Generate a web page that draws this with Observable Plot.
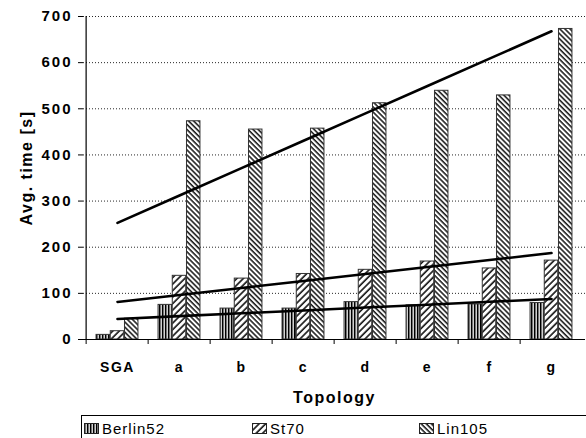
<!DOCTYPE html>
<html><head><meta charset="utf-8">
<script src="https://cdn.jsdelivr.net/npm/d3@7"></script>
<script src="https://cdn.jsdelivr.net/npm/@observablehq/plot@0.6"></script>
<style>
body{margin:0;background:#fff;font-family:"Liberation Sans",Arial,sans-serif;}
#wrap{position:relative;width:586px;height:438px;overflow:hidden;}
#legend{position:absolute;left:81px;top:415px;width:530px;height:32px;border:1px solid #000;box-sizing:border-box;font-size:15px;letter-spacing:1px;color:#000;}
.item{position:absolute;top:2px;display:flex;align-items:center;height:20px;}
.item svg{margin-right:3px;}
</style></head><body><div id="wrap"><div id="chart"></div><div id="legend"></div></div>
<script>
const categories = ["SGA","a","b","c","d","e","f","g"];
const seriesNames = ["Berlin52","St70","Lin105"];
const berlin52 = [10,75,67,67,81,74,76,79];
const st70 = [18,138,132,142,151,169,154,171];
const lin105 = [45,473,455,457,512,539,529,673];
const yTicks = [0,100,200,300,400,500,600,700];
const xLabel = "Topology";
const yLabel = "Avg. time [s]";

const seriesValues = {Berlin52: berlin52, St70: st70, Lin105: lin105};
const table = [];
seriesNames.forEach(s => categories.forEach((c,i) => table.push({category:c, series:s, value:seriesValues[s][i]})));

// linear trend lines (least squares over category index), as in the original
const trend = [];
seriesNames.forEach(s => {
  const v = seriesValues[s];
  const xs = v.map((_,i)=>i+1);
  const mx = d3.mean(xs), my = d3.mean(v);
  const slope = d3.sum(xs,(x,i)=>(x-mx)*(v[i]-my)) / d3.sum(xs,x=>(x-mx)**2);
  categories.forEach((c,i)=>trend.push({category:c, series:s, value: my + slope*(xs[i]-mx)}));
});

const W=586, H=412, mL=83, mR=1, mT=16, mB=H-339;
const plotH = H - mT - mB;
const bw = (W-mL-mR)/categories.length;
const pad = bw*0.16, barW = (bw-2*pad)/3;
const fills = {Berlin52:"url(#pBerlin)", St70:"url(#pSt70)", Lin105:"url(#pLin105)"};

const chart = Plot.plot({
  width: W, height: H,
  marginLeft: mL, marginRight: mR, marginTop: mT, marginBottom: mB,
  style: {fontFamily: "'Liberation Sans', Arial, sans-serif", color:"#000", background:"#fff"},
  x: {domain: categories, padding: 0},
  y: {domain: [0,700]},
  marks: [
    Plot.gridY(yTicks, {stroke:"#000", strokeOpacity:0.85, strokeDasharray:"1,2"}),
    ...seriesNames.map((s,k)=>Plot.barY(table.filter(d=>d.series===s), {
      x:"category", y:"value", fill: fills[s], stroke:"#333", strokeWidth:1,
      insetLeft: pad + k*barW, insetRight: bw - pad - (k+1)*barW
    })),
    Plot.ruleY([0], {stroke:"#000", strokeWidth:1.2}),
    Plot.ruleX([categories[0]], {dx:-bw/2, stroke:"#000", strokeWidth:1.2}),
    Plot.ruleX(categories, {dx:-bw/2, insetTop: plotH, insetBottom:-5, stroke:"#000"}),
    Plot.axisY(yTicks, {tickSize:5, tickPadding:6, fontSize:15, fontWeight:"bold", label:null}),
    Plot.axisX({tickSize:0, tickPadding:23, fontSize:14, fontWeight:"bold", label:null}),
    Plot.line(trend, {x:"category", y:"value", z:"series", stroke:"#000", strokeWidth:2.6}),
    Plot.text([xLabel], {frameAnchor:"bottom", lineAnchor:"middle", dy:58, fontSize:16, fontWeight:"bold"}),
    Plot.text([yLabel], {frameAnchor:"left", textAnchor:"middle", lineAnchor:"middle", dx:-57, dy:-10, rotate:-90, fontSize:16, fontWeight:"bold"})
  ]
});

const defs = `
<defs>
 <pattern id="pBerlin" patternUnits="userSpaceOnUse" width="3" height="3">
   <rect width="3" height="3" fill="#ddd"/>
   <rect x="0" width="1.2" height="3" fill="#000"/>
   <rect x="1.2" width="0.9" height="3" fill="#666"/>
 </pattern>
 <pattern id="pSt70" patternUnits="userSpaceOnUse" width="4.6" height="4.6" patternTransform="rotate(45)">
   <rect width="4.6" height="4.6" fill="#fff"/>
   <line x1="1" y1="0" x2="1" y2="4.6" stroke="#000" stroke-width="1.5"/>
 </pattern>
 <pattern id="pLin105" patternUnits="userSpaceOnUse" width="3.6" height="3.6" patternTransform="rotate(-45)">
   <rect width="3.6" height="3.6" fill="#fff"/>
   <line x1="1" y1="0" x2="1" y2="3.6" stroke="#000" stroke-width="1.4"/>
 </pattern>
</defs>`;
chart.insertAdjacentHTML("afterbegin", defs);
const allText = d3.select(chart).selectAll("text");
allText.style("letter-spacing","1.5px");
allText.filter(function(){return yTicks.map(String).includes(this.textContent);}).style("letter-spacing","2px");
allText.filter(function(){return this.textContent===yLabel;}).attr("text-anchor","middle");
document.getElementById("chart").appendChild(chart);

const legend = document.getElementById("legend");
const lefts = [2, 170, 337];
seriesNames.forEach((s,k)=>{
  const it = document.createElement("div");
  it.className = "item";
  it.style.left = lefts[k] + "px";
  it.innerHTML = `<svg width="15" height="11"><rect x="0.5" y="0.5" width="14" height="10" fill="${fills[s]}" stroke="#222" stroke-width="1"/></svg><span>${s}</span>`;
  legend.appendChild(it);
});
</script></body></html>
